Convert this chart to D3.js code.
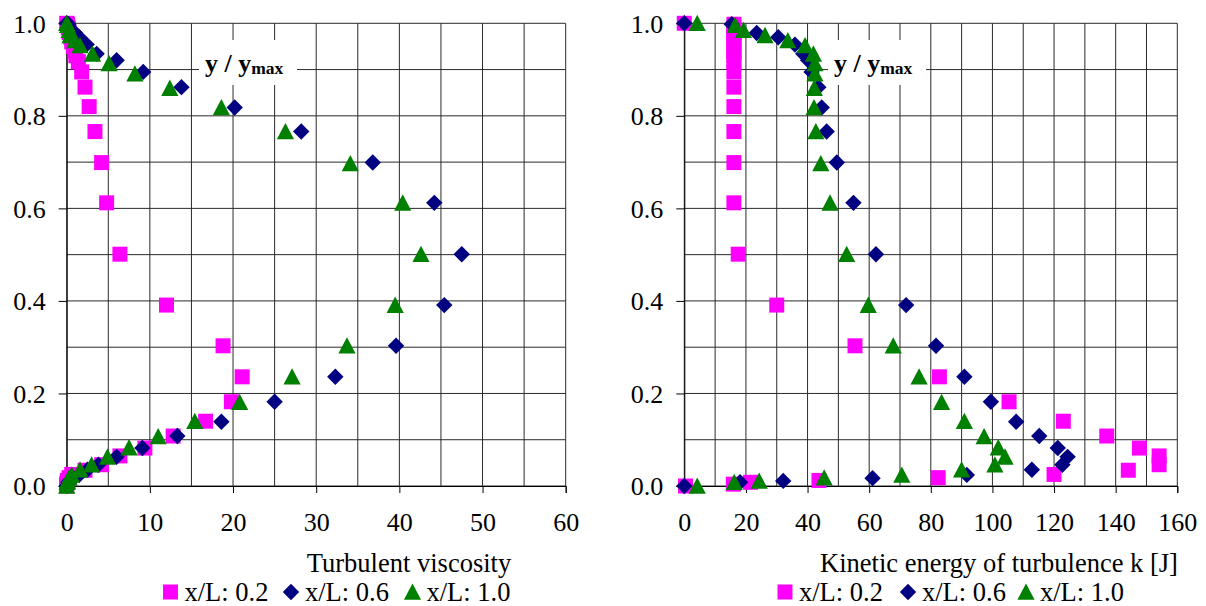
<!DOCTYPE html>
<html>
<head>
<meta charset="utf-8">
<script src="https://cdn.jsdelivr.net/npm/d3@7"></script>
<style>
  html, body { margin: 0; padding: 0; background: #fff; }
  svg { display: block; }
</style>
</head>
<body>
<svg id="chart" width="1206" height="606"></svg>
<script>
// ---- data -------------------------------------------------------------
const seriesNames = ["x/L: 0.2", "x/L: 0.6", "x/L: 1.0"];

// relative height y / ymax for each measuring station
const yRel02 = [1.0, 0.998, 0.99, 0.98, 0.97, 0.96, 0.95, 0.94, 0.93, 0.917, 0.895, 0.862, 0.82, 0.766, 0.699, 0.612, 0.501, 0.391, 0.303, 0.236, 0.182, 0.140, 0.108, 0.082, 0.065, 0.046, 0.034, 0.025, 0.018, 0.012, 0.008, 0.004, 0.0];
const yRel06 = [1.0, 0.998, 0.979, 0.970, 0.954, 0.934, 0.920, 0.895, 0.862, 0.818, 0.766, 0.699, 0.612, 0.501, 0.391, 0.303, 0.236, 0.182, 0.139, 0.108, 0.082, 0.063, 0.046, 0.035, 0.024, 0.017, 0.011, 0.008, 0.0];
const yRel10 = [1.0, 0.996, 0.985, 0.974, 0.963, 0.952, 0.934, 0.913, 0.891, 0.860, 0.818, 0.766, 0.697, 0.612, 0.501, 0.391, 0.303, 0.236, 0.181, 0.140, 0.107, 0.083, 0.063, 0.046, 0.035, 0.024, 0.018, 0.011, 0.008, 0.0];

// turbulent viscosity
const visc02 = [0, 0.1, 0.2, 0.3, 0.5, 0.6, 0.8, 1.0, 1.1, 1.4, 1.8, 2.2, 2.7, 3.4, 4.2, 4.8, 6.4, 12.0, 18.8, 21.1, 19.8, 16.7, 12.8, 9.4, 6.4, 4.2, 2.2, 0.6, 0.3, 0.1, 0.05, 0, 0];
const visc06 = [0, 0.2, 1.0, 1.5, 2.4, 3.6, 6.0, 9.2, 13.8, 20.2, 28.2, 36.8, 44.2, 47.5, 45.4, 39.6, 32.3, 25.0, 18.6, 13.3, 9.1, 6.0, 3.8, 2.5, 1.5, 0.8, 0.4, 0.2, 0];
const visc10 = [0, 0.1, 0.3, 0.4, 1.0, 1.6, 3.1, 5.1, 8.2, 12.4, 18.6, 26.3, 34.1, 40.4, 42.6, 39.5, 33.7, 27.1, 20.8, 15.4, 11.0, 7.5, 4.9, 3.0, 1.6, 0.6, 0.3, 0.1, 0.05, 0];

// kinetic energy of turbulence k [J]
const kin02 = [0, 16.1, 16.1, 16.1, 16.1, 16.1, 16.1, 16.1, 16.1, 16.1, 16.1, 16.1, 16.1, 16.1, 16.1, 16.1, 17.5, 30.0, 55.4, 82.8, 105.4, 123.0, 137.1, 147.7, 154.1, 154.1, 144.1, 120.0, 82.4, 43.7, 21.5, 15.9, 0.4];
const kin06 = [0, 15.4, 23.5, 30.5, 35.9, 38.6, 40.2, 41.3, 43.5, 44.6, 46.2, 49.5, 54.9, 62.2, 72.0, 81.7, 90.9, 99.5, 107.7, 115.2, 121.2, 124.4, 122.7, 112.8, 91.7, 61.1, 32.1, 18.1, 0];
const kin10 = [4.2, 16.5, 19.2, 26.2, 33.6, 39.2, 41.9, 42.4, 42.4, 42.2, 42.1, 42.7, 44.3, 47.3, 52.7, 59.7, 67.8, 76.2, 83.5, 90.9, 97.3, 101.9, 104.1, 100.8, 90.0, 70.6, 45.4, 24.3, 16.2, 4.2];

// tick labels
const yTicks = [0, 0.2, 0.4, 0.6, 0.8, 1.0];
const viscTicks = [0, 10, 20, 30, 40, 50, 60];
const kinTicks = [0, 20, 40, 60, 80, 100, 120, 140, 160];

const xTitles = ["Turbulent viscosity", "Kinetic energy of turbulence k [J]"];
const yTitle = "y / y";
const yTitleSub = "max";

// ---- styling ----------------------------------------------------------
const colors = ["#ff00ff", "#000080", "#008000"];
const SERIF = "'Liberation Serif', 'Times New Roman', 'DejaVu Serif', serif";
const TICK_FONT = 26;
const LABEL_FONT = 26.5;

// marker shapes: square, square-diamond, triangle
const squareSym = { draw(ctx) { const h = 7.5; ctx.moveTo(-h, -h); ctx.lineTo(h, -h); ctx.lineTo(h, h); ctx.lineTo(-h, h); ctx.closePath(); } };
const diamondSym = { draw(ctx) { const h = 8.2; ctx.moveTo(0, -h); ctx.lineTo(h, 0); ctx.lineTo(0, h); ctx.lineTo(-h, 0); ctx.closePath(); } };
const triangleSym = { draw(ctx) { const w = 8.6, t = 8.5, b = 7.8; ctx.moveTo(0, -t); ctx.lineTo(w, b); ctx.lineTo(-w, b); ctx.closePath(); } };
const symbols = [squareSym, diamondSym, triangleSym];

const svg = d3.select("#chart");

function serifText(sel, size) {
  return sel.style("font-family", SERIF).style("font-size", size + "px").attr("fill", "#000");
}

function panel(cfg) {
  const g = svg.append("g");
  const x = d3.scaleLinear().domain(cfg.xDomain).range([cfg.left, cfg.right]);
  const y = d3.scaleLinear().domain([0, 1]).range([486, 23.3]);

  // grid
  const grid = g.append("g").attr("stroke", "#2a2a2a").attr("stroke-width", 1);
  grid.selectAll("line.v").data(d3.range(cfg.xDomain[0], cfg.xDomain[1] + 0.001, cfg.gridStep))
    .join("line").attr("class", "v")
    .attr("x1", d => x(d)).attr("x2", d => x(d))
    .attr("y1", y(1)).attr("y2", y(0));
  grid.selectAll("line.h").data(d3.range(0, 11).map(i => i / 10))
    .join("line").attr("class", "h")
    .attr("x1", x.range()[0]).attr("x2", x.range()[1])
    .attr("y1", d => y(d)).attr("y2", d => y(d));

  // axes with outside ticks
  const yAxis = g.append("g").attr("transform", `translate(${x.range()[0]},0)`)
    .call(d3.axisLeft(y).tickValues(yTicks).tickSize(8).tickPadding(13).tickFormat(d3.format(".1f")));
  const xAxis = g.append("g").attr("transform", `translate(0,${y(0)})`)
    .call(d3.axisBottom(x).tickValues(cfg.ticks).tickSize(7).tickPadding(19).tickFormat(d3.format("d")));
  [yAxis, xAxis].forEach(a => {
    a.attr("font-family", null).attr("font-size", null);
    a.select(".domain").attr("stroke", "#000");
    a.selectAll(".tick line").attr("stroke", "#000");
    serifText(a.selectAll("text"), TICK_FONT);
  });
  yAxis.selectAll("text").attr("dy", "0.34em");
  xAxis.selectAll("text").attr("dy", "0.72em");

  // y / ymax label on a white box
  g.append("rect").attr("x", cfg.boxX).attr("y", 40).attr("width", 98).attr("height", 45).attr("fill", "#fff");
  const t = serifText(g.append("text"), 26).attr("x", cfg.boxX + 6).attr("y", 72)
    .style("font-weight", "bold");
  t.append("tspan").attr("xml:space", "preserve").text(yTitle);
  t.append("tspan").style("font-size", "17.5px").attr("dy", 2).text(yTitleSub);

  // data markers, series drawn in order
  cfg.series.forEach((s, i) => {
    const pts = s.x.map((v, j) => [v, s.y[j]]);
    g.append("g").selectAll("path").data(pts).join("path")
      .attr("transform", d => `translate(${x(d[0])},${y(d[1])})`)
      .attr("d", d3.symbol().type(symbols[i])())
      .attr("fill", colors[i]);
  });

  // axis title
  serifText(g.append("text"), LABEL_FONT).attr("x", cfg.titleX).attr("y", 572)
    .attr("text-anchor", "middle").text(cfg.title);

  // legend
  const lg = g.append("g");
  seriesNames.forEach((name, i) => {
    const mx = cfg.legendX[i];
    lg.append("path").attr("transform", `translate(${mx},${592})`)
      .attr("d", d3.symbol().type(symbols[i])()).attr("fill", colors[i]);
    serifText(lg.append("text"), LABEL_FONT).attr("x", mx + 14).attr("y", 601).text(name);
  });
}

panel({
  left: 66.7, right: 565.7, xDomain: [0, 60], gridStep: 5, ticks: viscTicks,
  boxX: 199, title: xTitles[0], titleX: 409, legendX: [170.5, 291, 412.5],
  series: [
    { x: visc02, y: yRel02 },
    { x: visc06, y: yRel06 },
    { x: visc10, y: yRel10 }
  ]
});

panel({
  left: 684.3, right: 1177.3, xDomain: [0, 160], gridStep: 10, ticks: kinTicks,
  boxX: 828, title: xTitles[1], titleX: 999, legendX: [785, 908, 1026],
  series: [
    { x: kin02, y: yRel02 },
    { x: kin06, y: yRel06 },
    { x: kin10, y: yRel10 }
  ]
});
</script>
</body>
</html>
